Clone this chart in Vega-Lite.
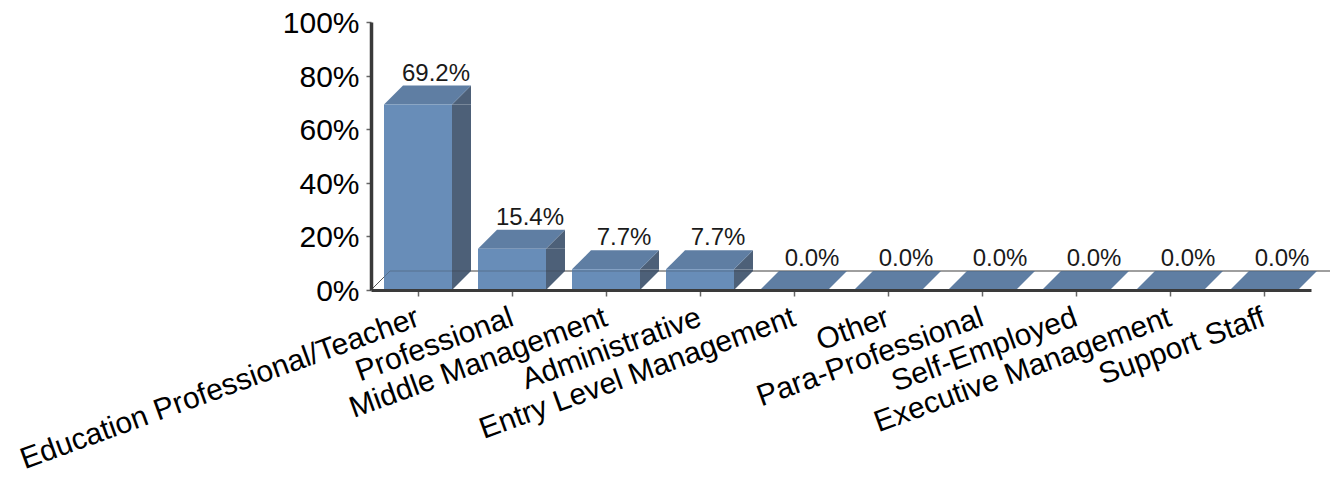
{
 "$schema":"https://vega.github.io/schema/vega-lite/v6.json",
 "width":940,"height":268,
 "autosize":{"type":"none"},
 "padding":{"left":371,"top":22,"right":23,"bottom":188},
 "background":"white",
 "config":{"view":{"stroke":null}},
 "data":{"values":[
  {"category":"Education Professional/Teacher","share":0.692},
  {"category":"Professional","share":0.154},
  {"category":"Middle Management","share":0.077},
  {"category":"Administrative","share":0.077},
  {"category":"Entry Level Management","share":0},
  {"category":"Other","share":0},
  {"category":"Para-Professional","share":0},
  {"category":"Self-Employed","share":0},
  {"category":"Executive Management","share":0},
  {"category":"Support Staff","share":0}
 ]},
 "encoding":{
  "x":{"field":"category","type":"nominal","sort":null,"title":null,
   "scale":{"paddingInner":0,"paddingOuter":0},
   "axis":{"labelAngle":-20,"labelAlign":"right","labelBaseline":"top","labelFont":"Liberation Sans","labelFontSize":30,"labelColor":"#000000","labelPadding":6,"labelOffset":-5,"labelOverlap":false,"labelLimit":600,"domainColor":"#3a3a3a","domainWidth":3,"tickColor":"#666666","tickWidth":1.5,"tickSize":6,"grid":false,"zindex":1}},
  "y":{"field":"share","type":"quantitative","title":null,
   "scale":{"domain":[0,1],"nice":false},
   "axis":{"values":[0,0.2,0.4,0.6,0.8,1],"format":".0%","labelFont":"Liberation Sans","labelFontSize":30,"labelColor":"#000000","labelPadding":7,"labelOffset":1.5,"domainColor":"#3a3a3a","domainWidth":3.5,"tickColor":"#666666","tickWidth":1.5,"tickSize":5,"grid":false,"zindex":1}}
 },
 "layer":[
  {"transform":[{"filter":"datum.category==='Education Professional/Teacher'"}],
   "mark":{"type":"point","shape":"M-47,0L-28,-19L912,-19","size":4,"filled":false,"stroke":"#666666","strokeWidth":1,"opacity":1},
   "encoding":{"y":{"datum":0}}},
  {"transform":[{"filter":"datum.share>0"}],
   "mark":{"type":"bar","width":19,"xOffset":43.5,"y2Offset":-19,"color":"#4d6078"},
   "encoding":{"y2":{"datum":0}}},
  {"transform":[{"filter":"datum.share>0"}],
   "mark":{"type":"point","shape":"M34,0L53,-19L53,0Z","size":4,"filled":true,"color":"#4d6078","opacity":1,"strokeWidth":0}},
  {"transform":[{"filter":"datum.share>0"}],
   "mark":{"type":"point","shape":"M34,0L53,-19L34,-19Z","size":4,"filled":true,"color":"#4d6078","opacity":1,"strokeWidth":0},
   "encoding":{"y":{"datum":0}}},
  {"mark":{"type":"point","shape":"M-34,0L34,0L53,-19L-15,-19Z","size":4,"filled":true,"color":"#5f7ea3","opacity":1,"strokeWidth":0}},
  {"mark":{"type":"bar","width":68,"color":"#688db8"}},
  {"transform":[{"filter":"datum.category==='Education Professional/Teacher'"}],
   "mark":{"type":"point","shape":"M-47,0L-28,-19L912,-19","size":4,"filled":false,"stroke":"#333333","strokeWidth":1,"opacity":0.3},
   "encoding":{"y":{"datum":0}}},
  {"mark":{"type":"text","font":"Liberation Sans","fontSize":24,"color":"#1a1a1a","dx":18,"dy":-24,"baseline":"alphabetic","align":"center"},
   "encoding":{"text":{"field":"share","type":"quantitative","format":".1%"}}}
 ]
}
